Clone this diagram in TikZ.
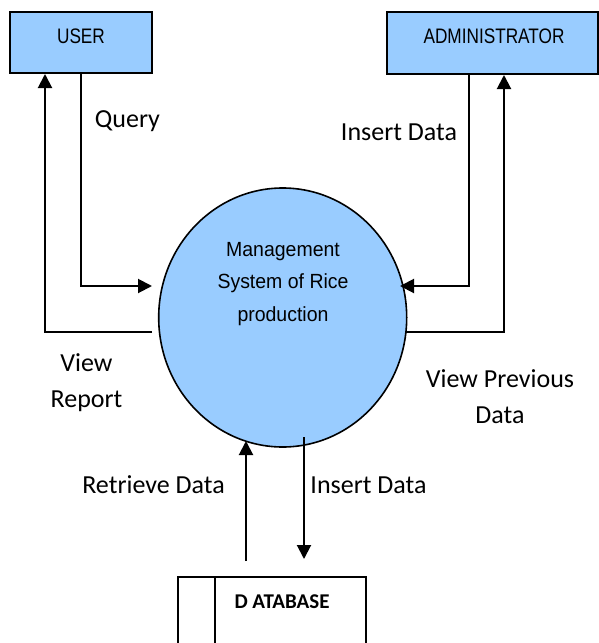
\documentclass[tikz,border=0pt]{standalone}
\usepackage{fontspec}
\setmainfont{Carlito}
\newfontfamily\boxfont{Liberation Sans}
\usetikzlibrary{arrows.meta,shapes.geometric}
\definecolor{procblue}{HTML}{99CCFF}
\newcommand{\narrowtext}[2]{\scalebox{#1}[1]{#2}}
\tikzset{
  entity/.style={draw=black, line width=2pt, fill=procblue, inner sep=0pt},
  process/.style={ellipse, draw=black, line width=1.6pt, fill=procblue, inner sep=0pt,
    minimum width=248pt, minimum height=259pt},
  store/.style={draw=black, line width=2pt, fill=white, inner sep=0pt},
  boxtext/.style={font=\boxfont\fontsize{21}{24}\selectfont, inner sep=0pt, anchor=base},
  proctext/.style={font=\boxfont\fontsize{20.5}{32.5}\selectfont, align=center, inner sep=0pt},
  flowlabel/.style={font=\fontsize{26}{35.5}\selectfont, align=center, inner sep=0pt, anchor=base},
  flow/.style={line width=2pt, -{Triangle[length=14pt,width=14pt]}}
}
\begin{document}
\begin{tikzpicture}[x=1pt,y=-1pt]
  \clip (0,0) rectangle (599,643);
  \fill[white] (0,0) rectangle (599,643);

  % external entities
  \node[entity, minimum width=142pt, minimum height=61pt] (user) at (81,42.5) {};
  \node[boxtext] (usertxt) at (81,43) {\narrowtext{0.82}{USER}};
  \node[entity, minimum width=211pt, minimum height=62pt] (admin) at (492.5,43) {};
  \node[boxtext] (admintxt) at (494,43) {\narrowtext{0.82}{ADMINISTRATOR}};

  % the process (base anchor of a multi-line node sits on its last line)
  \node[process] (sys) at (282.7,317.5) {};
  \node[proctext, anchor=base] (systxt) at (283,321)
    {\narrowtext{0.95}{Management}\\\narrowtext{0.95}{System of Rice}\\\narrowtext{0.95}{production}};

  % data store
  \node[store, minimum width=188pt, minimum height=90pt] (db) at (272,622) {};
  \draw[line width=2pt] (db.north -| 215,0) -- (db.south -| 215,0);
  \node[font=\bfseries\fontsize{21}{24}\selectfont, inner sep=0pt, anchor=base] (dbtxt) at (282,608) {D ATABASE};

  % bend points and free ends at the process
  \coordinate (qbend) at (81,286);
  \coordinate (qend) at (152,286);
  \coordinate (vrstart) at (152,332);
  \coordinate (vrbend) at (45,332);
  \coordinate (iabend) at (469,286);
  \coordinate (iaend) at (400,286);
  \coordinate (vpstart) at (405,332);
  \coordinate (vpbend) at (504,332);
  \coordinate (rdstart) at (246,561);
  \coordinate (rdend) at (246,441);
  \coordinate (idstart) at (304,437);
  \coordinate (idend) at (304,559);

  % flows
  \draw[flow] (user.south -| qbend) -- (qbend) -- (qend);
  \draw[flow] (vrstart) -- (vrbend) -- (user.south -| vrbend);
  \draw[flow] (admin.south -| iabend) -- (iabend) -- (iaend);
  \draw[flow] (vpstart) -- (vpbend) -- (admin.south -| vpbend);
  \draw[flow] (rdstart) -- (rdend);
  \draw[flow] (idstart) -- (idend);

  % flow labels
  \node[flowlabel] (lquery) at (127.5,127) {Query};
  \node[flowlabel] (linsadm) at (399,140) {Insert Data};
  \node[flowlabel] (lview) at (86.5,407) {View\\Report};
  \node[flowlabel] (lprev) at (500,423) {View Previous\\Data};
  \node[flowlabel] (lretr) at (153.5,493) {Retrieve Data};
  \node[flowlabel] (linsdb) at (368.5,493) {Insert Data};
\end{tikzpicture}
\end{document}
